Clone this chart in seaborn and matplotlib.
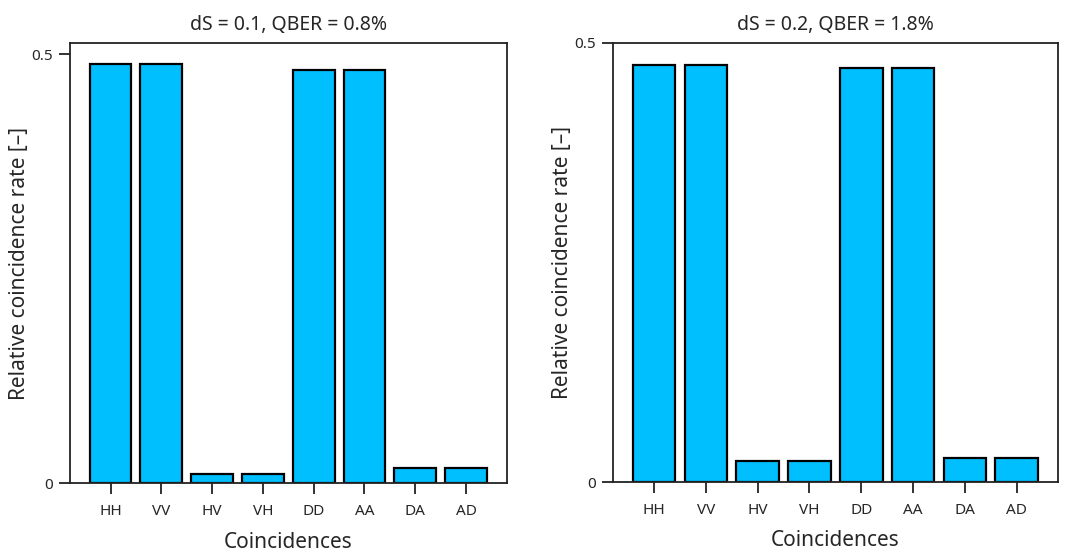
import numpy as np
import pandas as pd
import matplotlib.pyplot as plt
import seaborn as sns

# data
labels = ["HH", "VV", "HV", "VH", "DD", "AA", "DA", "AD"]
rate_ds01 = [0.488, 0.488, 0.0113, 0.0113, 0.482, 0.482, 0.0178, 0.0178]
rate_ds02 = [0.475, 0.475, 0.0243, 0.0243, 0.4715, 0.4715, 0.0273, 0.0273]
titles = ["dS = 0.1, QBER = 0.8%", "dS = 0.2, QBER = 1.8%"]
ymax = [0.513, 0.5]

sns.set_theme(style="ticks")
plt.rcParams["font.family"] = ["Noto Sans", "DejaVu Sans"]

fig = plt.figure(figsize=(10.92, 5.58), dpi=100)
ax1 = fig.add_axes([0.064, 0.134, 0.400, 0.789])
ax2 = fig.add_axes([0.561, 0.136, 0.408, 0.787])

for ax, vals, title, ym in zip([ax1, ax2], [rate_ds01, rate_ds02], titles, ymax):
    df = pd.DataFrame({"Coincidences": labels, "rate": vals})
    sns.barplot(data=df, x="Coincidences", y="rate", ax=ax, color="#00BFFF",
                saturation=1, edgecolor="black", linewidth=1.6, width=0.82)
    ax.set_xlim(-0.8, 7.8)
    ax.set_ylim(0, ym)
    ax.set_yticks([0, 0.5])
    ax.set_yticklabels(["0", "0.5"])
    ax.set_title(title, fontsize=14, pad=9)
    ax.set_xlabel("Coincidences", fontsize=15, labelpad=9)
    ax.set_ylabel("Relative coincidence rate [\u2013]", fontsize=15, labelpad=1)
    ax.tick_params(axis="x", labelsize=11, length=8, width=1.3, color="#222222", pad=7)
    ax.tick_params(axis="y", labelsize=11, length=8, width=1.3, color="#222222", pad=4)
    for s in ax.spines.values():
        s.set_linewidth(1.3)
        s.set_color("#222222")

fig.savefig("out.png", dpi=100)
